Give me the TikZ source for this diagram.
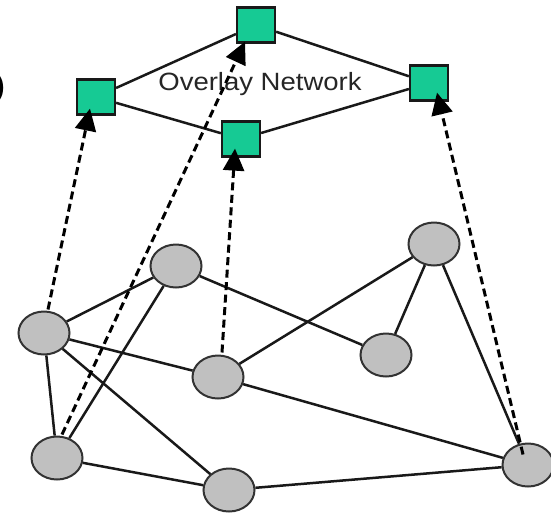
\documentclass[tikz,border=0pt]{standalone}
\usepackage{fontspec}
\setmainfont{Liberation Sans}
\usetikzlibrary{shapes.geometric,arrows.meta}
\definecolor{ovgreen}{RGB}{22,202,148}
\definecolor{ndgray}{RGB}{192,192,192}
\begin{document}
\begin{tikzpicture}[x=1pt,y=-1pt,
  sq/.style={draw=black!90,line width=2.2pt,fill=ovgreen,minimum width=38pt,minimum height=35pt,inner sep=0pt},
  el/.style={ellipse,draw=black!80,line width=2pt,fill=ndgray,minimum width=51pt,minimum height=43pt,inner sep=0pt},
  link/.style={line width=2.5pt,black!90},
  map/.style={line width=3pt,black,dash pattern=on 8pt off 4.5pt,-{Triangle[length=22pt,width=21pt]}}]
\useasboundingbox (0,0) rectangle (551,512);
% overlay squares
\node[sq] (S1) at (96,97) {};
\node[sq] (S2) at (256,25) {};
\node[sq] (S3) at (241,139) {};
\node[sq] (S4) at (429,83) {};
\node[font=\fontsize{25}{29}\selectfont\addfontfeature{FakeStretch=1.1},text=black!85] (lbl) at (260,84) {Overlay Network};
\node[font=\fontsize{28}{32}\selectfont\bfseries,anchor=east,inner sep=0pt] (par) at (5,88) {)};
% physical nodes
\node[el] (E1) at (176,266) {};
\node[el] (E2) at (44,333) {};
\node[el] (E3) at (218,377) {};
\node[el] (E4) at (57,458) {};
\node[el] (E5) at (229,490) {};
\node[el] (E6) at (434,244) {};
\node[el] (E7) at (386,355) {};
\node[el] (E8) at (528,465) {};
% overlay links
\draw[link] (S1) -- (S2);
\draw[link] (S1) -- (S3);
\draw[link] (S2) -- (S4);
\draw[link] (S3) -- (S4);
% physical links
\draw[link] (E2) -- (E1);
\draw[link] (E1) -- (E7);
\draw[link] (E1) -- (E4);
\draw[link] (E2) -- (E3);
\draw[link] (E2) -- (E5);
\draw[link] (E2) -- (E4);
\draw[link] (E4) -- (E5);
\draw[link] (E3) -- (E6);
\draw[link] (E3) -- (E8);
\draw[link] (E5) -- (E8);
\draw[link] (E6) -- (E7);
\draw[link] (E6) -- (E8);
% mapping arrows
\draw[map] ([xshift=4pt,yshift=1pt]E2.north) -- ([xshift=-6pt,yshift=7pt]S1.south);
\draw[map] ([xshift=5pt,yshift=1pt]E4.north) -- ([xshift=-11pt,yshift=2pt]S2.south);
\draw[map] ([xshift=4pt,yshift=2pt]E3.north) -- ([xshift=-6pt,yshift=9pt]S3.south);
\draw[map] ([xshift=-5pt,yshift=-12pt]E8.north) -- ([xshift=8pt,yshift=9pt]S4.south);
\end{tikzpicture}
\end{document}
